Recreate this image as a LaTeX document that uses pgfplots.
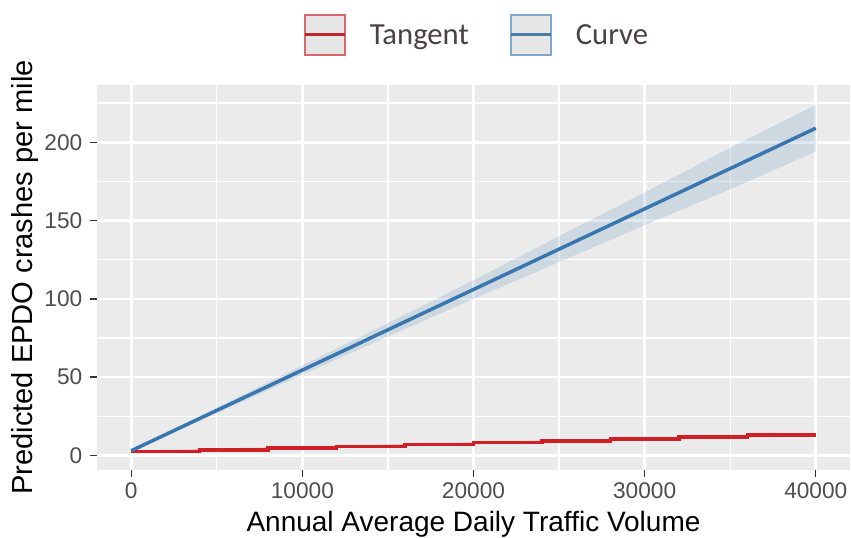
\documentclass[border=0pt]{standalone}
\usepackage{fontspec}
\setmainfont{Liberation Sans}
\newfontfamily\legfont{Carlito}
\usepackage{pgfplots}
\pgfplotsset{compat=1.18}
\definecolor{panel}{HTML}{EBEBEB}
\definecolor{tickc}{HTML}{333333}
\definecolor{ticklab}{HTML}{4D4D4D}
\definecolor{legtext}{HTML}{4B4045}
\definecolor{redline}{HTML}{D01F26}
\definecolor{blueline}{HTML}{3876B0}
\definecolor{redbox}{HTML}{D9676B}
\definecolor{bluebox}{HTML}{7FA6CC}
\definecolor{keyfill}{HTML}{E6E6E6}
\definecolor{redkey}{HTML}{B8282E}
\definecolor{bluekey}{HTML}{4A7BA8}
\begin{document}
\begin{tikzpicture}
\begin{axis}[
  at={(72.75pt,51pt)}, anchor=south west,
  scale only axis, width=564.75pt, height=288.75pt,
  xmin=-2000, xmax=42000, ymin=-9.3, ymax=236.6,
  xtick={0,10000,20000,30000,40000},
  ytick={0,50,100,150,200},
  minor xtick={5000,15000,25000,35000},
  minor ytick={25,75,125,175,225},
  grid=both,
  major grid style={white, line width=2pt},
  minor grid style={white, line width=1pt},
  axis background/.style={fill=panel},
  axis line style={draw=none},
  tick align=outside, xtick pos=bottom, ytick pos=left,
  major tick length=5.5pt, minor tick length=0pt,
  tick style={color=tickc, line width=1pt},
  scaled x ticks=false,
  /pgf/number format/assume math mode=true,
  /pgf/number format/set thousands separator={},
  ticklabel style={font=\fontsize{17}{19}\selectfont, text=ticklab},
  yticklabel style={anchor=east, inner ysep=0pt, inner xsep=5.35pt},
  xticklabel style={yshift=-0.5pt},
  xlabel={Annual Average Daily Traffic Volume},
  ylabel={Predicted EPDO crashes per mile},
  xlabel style={font=\fontsize{21}{24}\selectfont, text=black, at={(axis description cs:0.5,0)}, anchor=base, yshift=-46.5pt},
  ylabel style={font=\fontsize{21.8}{24}\selectfont, text=black, at={([xshift=-48pt]axis description cs:0,0.5)}, anchor=base},
  legend columns=2,
  legend style={at={(axis description cs:0.503,1.13)}, anchor=center, draw=none, fill=none,
    inner sep=0pt, font=\legfont\fontsize{23}{26}\selectfont, text=legtext,
    nodes={inner sep=0pt}, column sep=0pt},
]
% blue ribbon
\addplot[fill=blueline, fill opacity=0.16, draw=none, forget plot] coordinates {
 (0,3.5) (5000,30.5) (10000,57.5) (15000,84.5) (20000,112) (25000,140) (30000,168) (35000,196.5) (40000,224)
 (40000,194) (35000,170) (30000,147) (25000,123.5) (20000,100) (15000,76) (10000,51.5) (5000,27) (0,2.5)
} -- cycle;
% red ribbon
\addplot[fill=redline, fill opacity=0.2, draw=none, forget plot] coordinates {
 (0,1.8) (40000,12.4) (40000,13.8) (0,3.0)
} -- cycle;
\addplot[const plot, redline, line width=2.6pt,
  legend image code/.code={
    \draw[draw=redbox, fill=keyfill, line width=1.2pt] (0pt,-14.5pt) rectangle (30pt,15.5pt);
    \draw[redkey, line width=2.2pt] (0pt,0.5pt) -- (30pt,0.5pt);
    \path[draw=none] (30pt,0.5pt) -- (48.75pt,0.5pt);
  }] coordinates {
 (0,2.4) (4000,3.5) (8000,4.6) (12000,5.6) (16000,7.0) (20000,8.2) (24000,9.3) (28000,10.5) (32000,11.7) (36000,13.1) (40000,13.1)
};
\addlegendentry{Tangent}
\addplot[blueline, line width=2.6pt,
  legend image code/.code={
    \path[draw=none] (-31.5pt,0.5pt) -- (0pt,0.5pt);
    \draw[draw=bluebox, fill=keyfill, line width=1.2pt] (0pt,-14.5pt) rectangle (30pt,15.5pt);
    \draw[bluekey, line width=2.2pt] (0pt,0.5pt) -- (30pt,0.5pt);
    \path[draw=none] (30pt,0.5pt) -- (48.75pt,0.5pt);
  }] coordinates {
 (0,3) (10000,54.5) (20000,106) (30000,157.5) (40000,209)
};
\addlegendentry{Curve}
\end{axis}
\pgfresetboundingbox
\path[use as bounding box] (0,0) rectangle (638.25pt,403.5pt);
\end{tikzpicture}
\end{document}
